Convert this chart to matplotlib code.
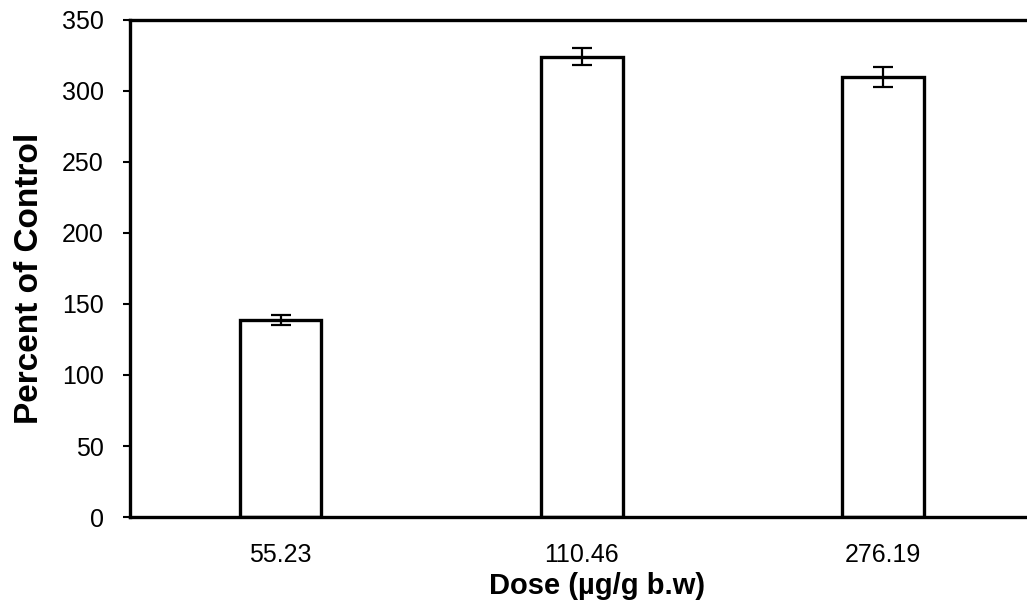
import matplotlib
matplotlib.use("Agg")
import matplotlib.pyplot as plt
import numpy as np

categories = ["55.23", "110.46", "276.19"]
values = [139, 324, 310]
errors = [3.5, 6, 7]
yticks = [0, 50, 100, 150, 200, 250, 300, 350]

plt.rcParams['font.family'] = ['Liberation Sans', 'DejaVu Sans']

fig = plt.figure(figsize=(10.27, 6.13), dpi=100)
ax = fig.add_axes([0.1266, 0.1566, 0.880, 0.8108])

x = np.arange(len(categories))
ax.bar(x, values, width=0.27, color='white', edgecolor='black', linewidth=2.4, zorder=2)
ax.errorbar(x, values, yerr=errors, fmt='none', ecolor='black', elinewidth=1.6,
            capsize=7, capthick=1.6, zorder=3)

ax.set_xlim(-0.5, 2.5)
ax.set_ylim(0, 350)
ax.set_yticks(yticks)
ax.set_xticks(x)
ax.set_xticklabels(categories)

for s in ['left', 'top', 'bottom']:
    ax.spines[s].set_linewidth(2.4)
ax.spines['right'].set_visible(False)

ax.tick_params(axis='y', direction='out', length=5, width=1.5, labelsize=18, pad=14)
ax.tick_params(axis='x', length=0, labelsize=18, pad=19)

ax.set_ylabel("Percent of Control", fontsize=24, fontweight='bold', labelpad=12, y=0.48)
ax.set_xlabel("Dose (µg/g b.w)", fontsize=21, fontweight='bold', labelpad=3, x=0.517)

fig.savefig("out.png", dpi=100)
